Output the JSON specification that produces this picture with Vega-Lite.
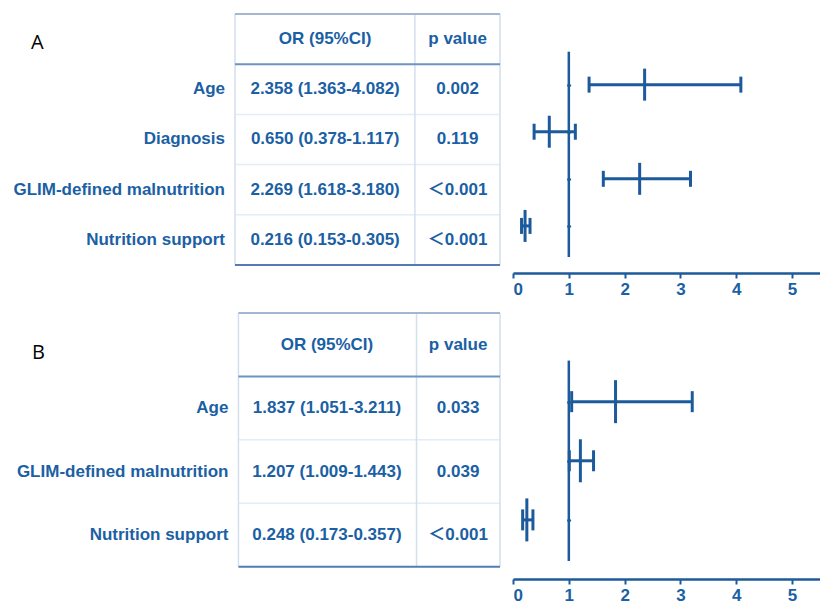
{
  "$schema": "https://vega.github.io/schema/vega-lite/v6.json",
  "background": "white",
  "padding": {"left": 13, "top": 13, "right": 0, "bottom": 0},
  "config": {"view": {"stroke": null}},
  "spacing": 15,
  "datasets": {
    "varsA": [
      {"pos": 4, "variable": "Age", "or": 2.358, "lo": 1.363, "hi": 4.082, "ci": "2.358 (1.363-4.082)", "p": "0.002"},
      {"pos": 3, "variable": "Diagnosis", "or": 0.650, "lo": 0.378, "hi": 1.117, "ci": "0.650 (0.378-1.117)", "p": "0.119"},
      {"pos": 2, "variable": "GLIM-defined malnutrition", "or": 2.269, "lo": 1.618, "hi": 3.180, "ci": "2.269 (1.618-3.180)", "p": "＜0.001"},
      {"pos": 1, "variable": "Nutrition support", "or": 0.216, "lo": 0.153, "hi": 0.305, "ci": "0.216 (0.153-0.305)", "p": "＜0.001"}
    ],
    "varsB": [
      {"pos": 3, "variable": "Age", "or": 1.837, "lo": 1.051, "hi": 3.211, "ci": "1.837 (1.051-3.211)", "p": "0.033"},
      {"pos": 2, "variable": "GLIM-defined malnutrition", "or": 1.207, "lo": 1.009, "hi": 1.443, "ci": "1.207 (1.009-1.443)", "p": "0.039"},
      {"pos": 1, "variable": "Nutrition support", "or": 0.248, "lo": 0.173, "hi": 0.357, "ci": "0.248 (0.173-0.357)", "p": "＜0.001"}
    ],
    "one": [{}]
  },
  "vconcat": [
    {
      "bounds": "flush",
      "spacing": 13,
      "hconcat": [
        {
          "width": 265,
          "height": 259,
          "data": {"name": "varsA"},
          "layer": [
            {"transform": [{"filter": "datum.pos < 4"}],
             "mark": {"type": "rule", "color": "#e4ecf5", "strokeWidth": 1.5, "yOffset": -25.1},
             "encoding": {"y": {"field": "pos", "type": "quantitative", "scale": {"domain": [0.34, 5.5]}, "axis": null},
                          "x": {"datum": 0, "type": "quantitative", "scale": {"domain": [0, 1]}, "axis": null}, "x2": {"datum": 1}}},
            {"data": {"name": "one"}, "mark": {"type": "rule", "color": "#d3dfec", "strokeWidth": 1.5},
             "encoding": {"x": {"datum": 0, "type": "quantitative", "scale": {"domain": [0, 1]}, "axis": null},
                          "y": {"datum": 5.5, "type": "quantitative", "scale": {"domain": [0.34, 5.5]}, "axis": null}, "y2": {"datum": 0.5}}},
            {"data": {"name": "one"}, "mark": {"type": "rule", "color": "#d3dfec", "strokeWidth": 1.5},
             "encoding": {"x": {"datum": 0.679, "type": "quantitative", "scale": {"domain": [0, 1]}, "axis": null},
                          "y": {"datum": 5.5, "type": "quantitative", "scale": {"domain": [0.34, 5.5]}, "axis": null}, "y2": {"datum": 0.5}}},
            {"data": {"name": "one"}, "mark": {"type": "rule", "color": "#d3dfec", "strokeWidth": 1.5},
             "encoding": {"x": {"datum": 1, "type": "quantitative", "scale": {"domain": [0, 1]}, "axis": null},
                          "y": {"datum": 5.5, "type": "quantitative", "scale": {"domain": [0.34, 5.5]}, "axis": null}, "y2": {"datum": 0.5}}},
            {"data": {"name": "one"}, "mark": {"type": "rule", "color": "#a3b8d0", "strokeWidth": 2},
             "encoding": {"y": {"datum": 5.5, "type": "quantitative", "scale": {"domain": [0.34, 5.5]}, "axis": null},
                          "x": {"datum": 0, "type": "quantitative", "scale": {"domain": [0, 1]}, "axis": null}, "x2": {"datum": 1}}},
            {"data": {"name": "one"}, "mark": {"type": "rule", "color": "#6d93c0", "strokeWidth": 2},
             "encoding": {"y": {"datum": 4.5, "type": "quantitative", "scale": {"domain": [0.34, 5.5]}, "axis": null},
                          "x": {"datum": 0, "type": "quantitative", "scale": {"domain": [0, 1]}, "axis": null}, "x2": {"datum": 1}}},
            {"data": {"name": "one"}, "mark": {"type": "rule", "color": "#4f7db4", "strokeWidth": 2},
             "encoding": {"y": {"datum": 0.5, "type": "quantitative", "scale": {"domain": [0.34, 5.5]}, "axis": null},
                          "x": {"datum": 0, "type": "quantitative", "scale": {"domain": [0, 1]}, "axis": null}, "x2": {"datum": 1}}},
            {"data": {"name": "one"}, "mark": {"type": "text", "text": "OR (95%CI)", "font": "Liberation Sans, Noto Sans CJK SC", "fontWeight": "bold", "fontSize": 17, "color": "#1b5fa4", "align": "center", "baseline": "middle"},
             "encoding": {"x": {"datum": 0.34, "type": "quantitative", "scale": {"domain": [0, 1]}, "axis": null},
                          "y": {"datum": 5, "type": "quantitative", "scale": {"domain": [0.34, 5.5]}, "axis": null}}},
            {"data": {"name": "one"}, "mark": {"type": "text", "text": "p value", "font": "Liberation Sans, Noto Sans CJK SC", "fontWeight": "bold", "fontSize": 17, "color": "#1b5fa4", "align": "center", "baseline": "middle"},
             "encoding": {"x": {"datum": 0.84, "type": "quantitative", "scale": {"domain": [0, 1]}, "axis": null},
                          "y": {"datum": 5, "type": "quantitative", "scale": {"domain": [0.34, 5.5]}, "axis": null}}},
            {"mark": {"type": "text", "font": "Liberation Sans, Noto Sans CJK SC", "fontWeight": "bold", "fontSize": 17, "color": "#1b5fa4", "align": "right", "baseline": "middle", "dx": -10},
             "encoding": {"x": {"datum": 0, "type": "quantitative", "scale": {"domain": [0, 1]}, "axis": null},
                          "y": {"field": "pos", "type": "quantitative", "scale": {"domain": [0.34, 5.5]}, "axis": null},
                          "text": {"field": "variable"}}},
            {"mark": {"type": "text", "font": "Liberation Sans, Noto Sans CJK SC", "fontWeight": "bold", "fontSize": 17, "color": "#1b5fa4", "align": "center", "baseline": "middle"},
             "encoding": {"x": {"datum": 0.34, "type": "quantitative", "scale": {"domain": [0, 1]}, "axis": null},
                          "y": {"field": "pos", "type": "quantitative", "scale": {"domain": [0.34, 5.5]}, "axis": null},
                          "text": {"field": "ci"}}},
            {"mark": {"type": "text", "font": "Liberation Sans, Noto Sans CJK SC", "fontWeight": "bold", "fontSize": 17, "color": "#1b5fa4", "align": "center", "baseline": "middle"},
             "encoding": {"x": {"datum": 0.84, "type": "quantitative", "scale": {"domain": [0, 1]}, "axis": null},
                          "y": {"field": "pos", "type": "quantitative", "scale": {"domain": [0.34, 5.5]}, "axis": null},
                          "text": {"field": "p"}}},
            {"data": {"name": "one"}, "mark": {"type": "text", "text": "A", "font": "Open Sans", "fontSize": 20, "color": "black", "align": "left", "baseline": "alphabetic", "dx": -204, "dy": 35},
             "encoding": {"x": {"datum": 0, "type": "quantitative", "scale": {"domain": [0, 1]}, "axis": null},
                          "y": {"datum": 5.5, "type": "quantitative", "scale": {"domain": [0.34, 5.5]}, "axis": null}}}
          ]
        },
        {
          "width": 307,
          "height": 259,
          "data": {"name": "varsA"},
          "layer": [
            {"data": {"name": "one"}, "mark": {"type": "rule", "color": "#1c5a9b", "strokeWidth": 2.5},
             "encoding": {
               "x": {"datum": 1, "type": "quantitative", "scale": {"domain": [0, 5.33]}, "title": null,
                     "axis": {"values": [0, 1, 2, 3, 4, 5], "format": "d", "grid": false, "domainColor": "#1c5a9b", "domainWidth": 2.5, "tickColor": "#1c5a9b", "tickWidth": 2, "tickSize": 5, "labelFont": "Liberation Sans", "labelFontWeight": "bold", "labelFontSize": 17, "labelColor": "#1b5fa4", "labelPadding": 3}},
               "y": {"datum": 4.7, "type": "quantitative", "scale": {"domain": [0.34, 5.5]}, "title": null,
                     "axis": {"values": [1, 2, 3, 4], "grid": false, "domain": false, "labels": false, "offset": -57.6, "tickColor": "#1c5a9b", "tickWidth": 2, "tickSize": 4}},
               "y2": {"datum": 0.34}}},
            {"mark": {"type": "rule", "color": "#1c5a9b", "strokeWidth": 3},
             "encoding": {"x": {"field": "lo", "type": "quantitative", "title": null}, "x2": {"field": "hi"},
                          "y": {"field": "pos", "type": "quantitative", "title": null}}},
            {"mark": {"type": "tick", "orient": "vertical", "color": "#1c5a9b", "thickness": 3, "size": 16, "opacity": 1},
             "encoding": {"x": {"field": "lo", "type": "quantitative", "title": null}, "y": {"field": "pos", "type": "quantitative", "title": null}}},
            {"mark": {"type": "tick", "orient": "vertical", "color": "#1c5a9b", "thickness": 3, "size": 16, "opacity": 1},
             "encoding": {"x": {"field": "hi", "type": "quantitative", "title": null}, "y": {"field": "pos", "type": "quantitative", "title": null}}},
            {"mark": {"type": "tick", "orient": "vertical", "color": "#1c5a9b", "thickness": 3, "size": 32, "opacity": 1},
             "encoding": {"x": {"field": "or", "type": "quantitative", "title": null}, "y": {"field": "pos", "type": "quantitative", "title": null}}}
          ]
        }
      ]
    },
    {
      "bounds": "flush",
      "spacing": 13,
      "hconcat": [
        {
          "width": 265,
          "height": 266,
          "data": {"name": "varsB"},
          "layer": [
            {"transform": [{"filter": "datum.pos < 3"}],
             "mark": {"type": "rule", "color": "#e4ecf5", "strokeWidth": 1.5, "yOffset": -31.7},
             "encoding": {"y": {"field": "pos", "type": "quantitative", "scale": {"domain": [0.305, 4.5]}, "axis": null},
                          "x": {"datum": 0.013, "type": "quantitative", "scale": {"domain": [0, 1]}, "axis": null}, "x2": {"datum": 1}}},
            {"data": {"name": "one"}, "mark": {"type": "rule", "color": "#d3dfec", "strokeWidth": 1.5},
             "encoding": {"x": {"datum": 0.013, "type": "quantitative", "scale": {"domain": [0, 1]}, "axis": null},
                          "y": {"datum": 4.5, "type": "quantitative", "scale": {"domain": [0.305, 4.5]}, "axis": null}, "y2": {"datum": 0.5}}},
            {"data": {"name": "one"}, "mark": {"type": "rule", "color": "#d3dfec", "strokeWidth": 1.5},
             "encoding": {"x": {"datum": 0.685, "type": "quantitative", "scale": {"domain": [0, 1]}, "axis": null},
                          "y": {"datum": 4.5, "type": "quantitative", "scale": {"domain": [0.305, 4.5]}, "axis": null}, "y2": {"datum": 0.5}}},
            {"data": {"name": "one"}, "mark": {"type": "rule", "color": "#d3dfec", "strokeWidth": 1.5},
             "encoding": {"x": {"datum": 1, "type": "quantitative", "scale": {"domain": [0, 1]}, "axis": null},
                          "y": {"datum": 4.5, "type": "quantitative", "scale": {"domain": [0.305, 4.5]}, "axis": null}, "y2": {"datum": 0.5}}},
            {"data": {"name": "one"}, "mark": {"type": "rule", "color": "#a3b8d0", "strokeWidth": 2},
             "encoding": {"y": {"datum": 4.5, "type": "quantitative", "scale": {"domain": [0.305, 4.5]}, "axis": null},
                          "x": {"datum": 0.013, "type": "quantitative", "scale": {"domain": [0, 1]}, "axis": null}, "x2": {"datum": 1}}},
            {"data": {"name": "one"}, "mark": {"type": "rule", "color": "#6d93c0", "strokeWidth": 2},
             "encoding": {"y": {"datum": 3.5, "type": "quantitative", "scale": {"domain": [0.305, 4.5]}, "axis": null},
                          "x": {"datum": 0.013, "type": "quantitative", "scale": {"domain": [0, 1]}, "axis": null}, "x2": {"datum": 1}}},
            {"data": {"name": "one"}, "mark": {"type": "rule", "color": "#4f7db4", "strokeWidth": 2},
             "encoding": {"y": {"datum": 0.5, "type": "quantitative", "scale": {"domain": [0.305, 4.5]}, "axis": null},
                          "x": {"datum": 0.013, "type": "quantitative", "scale": {"domain": [0, 1]}, "axis": null}, "x2": {"datum": 1}}},
            {"data": {"name": "one"}, "mark": {"type": "text", "text": "OR (95%CI)", "font": "Liberation Sans, Noto Sans CJK SC", "fontWeight": "bold", "fontSize": 17, "color": "#1b5fa4", "align": "center", "baseline": "middle"},
             "encoding": {"x": {"datum": 0.347, "type": "quantitative", "scale": {"domain": [0, 1]}, "axis": null},
                          "y": {"datum": 4, "type": "quantitative", "scale": {"domain": [0.305, 4.5]}, "axis": null}}},
            {"data": {"name": "one"}, "mark": {"type": "text", "text": "p value", "font": "Liberation Sans, Noto Sans CJK SC", "fontWeight": "bold", "fontSize": 17, "color": "#1b5fa4", "align": "center", "baseline": "middle"},
             "encoding": {"x": {"datum": 0.842, "type": "quantitative", "scale": {"domain": [0, 1]}, "axis": null},
                          "y": {"datum": 4, "type": "quantitative", "scale": {"domain": [0.305, 4.5]}, "axis": null}}},
            {"mark": {"type": "text", "font": "Liberation Sans, Noto Sans CJK SC", "fontWeight": "bold", "fontSize": 17, "color": "#1b5fa4", "align": "right", "baseline": "middle", "dx": -10},
             "encoding": {"x": {"datum": 0.013, "type": "quantitative", "scale": {"domain": [0, 1]}, "axis": null},
                          "y": {"field": "pos", "type": "quantitative", "scale": {"domain": [0.305, 4.5]}, "axis": null},
                          "text": {"field": "variable"}}},
            {"mark": {"type": "text", "font": "Liberation Sans, Noto Sans CJK SC", "fontWeight": "bold", "fontSize": 17, "color": "#1b5fa4", "align": "center", "baseline": "middle"},
             "encoding": {"x": {"datum": 0.347, "type": "quantitative", "scale": {"domain": [0, 1]}, "axis": null},
                          "y": {"field": "pos", "type": "quantitative", "scale": {"domain": [0.305, 4.5]}, "axis": null},
                          "text": {"field": "ci"}}},
            {"mark": {"type": "text", "font": "Liberation Sans, Noto Sans CJK SC", "fontWeight": "bold", "fontSize": 17, "color": "#1b5fa4", "align": "center", "baseline": "middle"},
             "encoding": {"x": {"datum": 0.842, "type": "quantitative", "scale": {"domain": [0, 1]}, "axis": null},
                          "y": {"field": "pos", "type": "quantitative", "scale": {"domain": [0.305, 4.5]}, "axis": null},
                          "text": {"field": "p"}}},
            {"data": {"name": "one"}, "mark": {"type": "text", "text": "B", "font": "Open Sans", "fontSize": 20, "color": "black", "align": "left", "baseline": "alphabetic", "dx": -203, "dy": 46},
             "encoding": {"x": {"datum": 0, "type": "quantitative", "scale": {"domain": [0, 1]}, "axis": null},
                          "y": {"datum": 4.5, "type": "quantitative", "scale": {"domain": [0.305, 4.5]}, "axis": null}}}
          ]
        },
        {
          "width": 307,
          "height": 266,
          "data": {"name": "varsB"},
          "layer": [
            {"data": {"name": "one"}, "mark": {"type": "rule", "color": "#1c5a9b", "strokeWidth": 2.5},
             "encoding": {
               "x": {"datum": 1, "type": "quantitative", "scale": {"domain": [0, 5.33]}, "title": null,
                     "axis": {"values": [0, 1, 2, 3, 4, 5], "format": "d", "grid": false, "domainColor": "#1c5a9b", "domainWidth": 2.5, "tickColor": "#1c5a9b", "tickWidth": 2, "tickSize": 5, "labelFont": "Liberation Sans", "labelFontWeight": "bold", "labelFontSize": 17, "labelColor": "#1b5fa4", "labelPadding": 3}},
               "y": {"datum": 3.695, "type": "quantitative", "scale": {"domain": [0.305, 4.5]}, "title": null,
                     "axis": {"values": [1, 2, 3], "grid": false, "domain": false, "labels": false, "offset": -57.6, "tickColor": "#1c5a9b", "tickWidth": 2, "tickSize": 4}},
               "y2": {"datum": 0.305}}},
            {"mark": {"type": "rule", "color": "#1c5a9b", "strokeWidth": 3},
             "encoding": {"x": {"field": "lo", "type": "quantitative", "title": null}, "x2": {"field": "hi"},
                          "y": {"field": "pos", "type": "quantitative", "title": null}}},
            {"mark": {"type": "tick", "orient": "vertical", "color": "#1c5a9b", "thickness": 3, "size": 21, "opacity": 1},
             "encoding": {"x": {"field": "lo", "type": "quantitative", "title": null}, "y": {"field": "pos", "type": "quantitative", "title": null}}},
            {"mark": {"type": "tick", "orient": "vertical", "color": "#1c5a9b", "thickness": 3, "size": 21, "opacity": 1},
             "encoding": {"x": {"field": "hi", "type": "quantitative", "title": null}, "y": {"field": "pos", "type": "quantitative", "title": null}}},
            {"mark": {"type": "tick", "orient": "vertical", "color": "#1c5a9b", "thickness": 3, "size": 43, "opacity": 1},
             "encoding": {"x": {"field": "or", "type": "quantitative", "title": null}, "y": {"field": "pos", "type": "quantitative", "title": null}}}
          ]
        }
      ]
    }
  ]
}
